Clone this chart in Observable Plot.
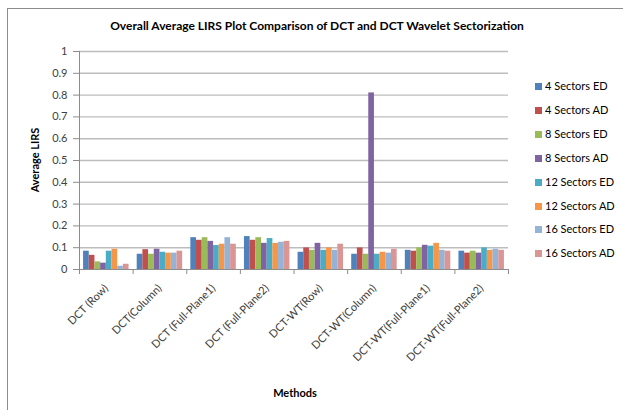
<!DOCTYPE html>
<html>
<head>
<meta charset="utf-8">
<script src="https://cdn.jsdelivr.net/npm/d3@7"></script>
<script src="https://cdn.jsdelivr.net/npm/@observablehq/plot@0.6"></script>
<style>
  body { margin: 0; background: #fff; }
  #wrap { position: relative; width: 623px; height: 410px; overflow: hidden; font-family: Lato, "Open Sans", sans-serif; }
  #border { position: absolute; left: 7px; top: 8px; width: 800px; height: 600px; border: 1px solid #8c8c8c; box-sizing: border-box; pointer-events: none; }
  #chart { position: absolute; left: 0; top: 0; }
  .title { position: absolute; left: 317px; top: 18px; transform: translateX(-50%); white-space: nowrap; font-weight: bold; font-size: 12px; color: #000; }
  .ylab { position: absolute; left: 34px; top: 160px; transform: translate(-50%, -50%) rotate(-90deg); white-space: nowrap; font-weight: bold; font-size: 11px; color: #000; }
  .xlab { position: absolute; left: 295px; top: 392px; transform: translate(-50%, -50%); white-space: nowrap; font-weight: bold; font-size: 11px; color: #000; }
  .legend { position: absolute; left: 535px; top: 0; }
  .item { position: absolute; left: 0; white-space: nowrap; font-size: 11px; color: #000; height: 14px; line-height: 14px; }
  .sw { display: inline-block; width: 7px; height: 7px; margin-right: 3px; vertical-align: 0px; }
  #chart svg g[aria-label*="axis"] line, #chart svg g[aria-label*="axis"] path { stroke: #8c8c8c; }
</style>
</head>
<body>
<div id="wrap">
  <div id="chart"></div>
  <div id="border"></div>
  <div class="title">Overall Average LIRS Plot Comparison of DCT and DCT Wavelet Sectorization</div>
  <div class="ylab">Average LIRS</div>
  <div class="xlab">Methods</div>
  <div class="legend" id="legend"></div>
</div>
<script>
const methods = ["DCT (Row)", "DCT(Column)", "DCT (Full-Plane1)", "DCT (Full-Plane2)",
  "DCT-WT(Row)", "DCT-WT(Column)", "DCT-WT(Full-Plane1)", "DCT-WT(Full-Plane2)"];
const series = ["4 Sectors ED", "4 Sectors AD", "8 Sectors ED", "8 Sectors AD",
  "12 Sectors ED", "12 Sectors AD", "16 Sectors ED", "16 Sectors AD"];
const colors = ["#4F81BD", "#C0504D", "#9BBB59", "#8064A2", "#4BACC6", "#F79646", "#95B3D7", "#D99694"];

const s4ED  = [0.084, 0.070, 0.146, 0.151, 0.079, 0.070, 0.088, 0.084];
const s4AD  = [0.065, 0.091, 0.134, 0.134, 0.099, 0.099, 0.084, 0.075];
const s8ED  = [0.035, 0.070, 0.146, 0.146, 0.088, 0.070, 0.099, 0.084];
const s8AD  = [0.029, 0.093, 0.129, 0.120, 0.120, 0.810, 0.111, 0.075];
const s12ED = [0.084, 0.079, 0.110, 0.142, 0.088, 0.070, 0.107, 0.099];
const s12AD = [0.093, 0.075, 0.116, 0.120, 0.099, 0.079, 0.120, 0.088];
const s16ED = [0.015, 0.075, 0.146, 0.125, 0.088, 0.075, 0.088, 0.093];
const s16AD = [0.024, 0.084, 0.116, 0.129, 0.116, 0.093, 0.084, 0.088];
const seriesValues = [s4ED, s4AD, s8ED, s8AD, s12ED, s12AD, s16ED, s16AD];

const yTicks = [0, 0.1, 0.2, 0.3, 0.4, 0.5, 0.6, 0.7, 0.8, 0.9, 1];

// group layout in x data units (each method occupies one unit)
const barW = 0.106;
const groupPad = (1 - barW * series.length) / 2;

const rows = [];
methods.forEach((m, gi) => {
  series.forEach((s, si) => {
    rows.push({method: m, series: s, gi, si, value: seriesValues[si][gi]});
  });
});
const labels = methods.map((m, i) => ({method: m, pos: i + 0.5}));

const chart = Plot.plot({
  width: 623,
  height: 410,
  marginLeft: 79,
  marginRight: 115,
  marginTop: 51,
  marginBottom: 141,
  style: {background: "transparent", color: "#404040", fontFamily: "Lato, 'Open Sans', sans-serif", fontSize: "11px"},
  x: {domain: [0, methods.length], ticks: methods.length, tickFormat: () => "", tickSize: 5, label: null},
  y: {domain: [0, 1], ticks: 10, tickFormat: d => String(+d.toFixed(1)), tickSize: 6, tickPadding: 6, label: null},
  color: {domain: series, range: colors},
  marks: [
    Plot.ruleY(yTicks.slice(1), {stroke: "#bdbdbd", strokeWidth: 1.4}),
    Plot.rectY(rows, {
      x1: d => d.gi + groupPad + d.si * barW,
      x2: d => d.gi + groupPad + (d.si + 1) * barW,
      y: "value",
      fill: "series",
      inset: 0
    }),
    Plot.ruleY([0], {stroke: "#8c8c8c"}),
    Plot.ruleX([0], {y1: 0, y2: 1, stroke: "#8c8c8c"}),
    Plot.text(labels, {
      x: "pos", y: () => 0, text: "method", rotate: -45, textAnchor: "end",
      dx: 0, dy: 17, fontSize: 11, fill: "#404040"
    })
  ]
});
document.getElementById("chart").appendChild(chart);

const legend = document.getElementById("legend");
const legendY = [86, 110, 134, 158, 182, 206, 229, 253];
series.forEach((s, i) => {
  const div = document.createElement("div");
  div.className = "item";
  div.style.top = (legendY[i] - 7) + "px";
  const sw = document.createElement("span");
  sw.className = "sw";
  sw.style.background = colors[i];
  div.appendChild(sw);
  div.appendChild(document.createTextNode(s));
  legend.appendChild(div);
});
</script>
</body>
</html>
